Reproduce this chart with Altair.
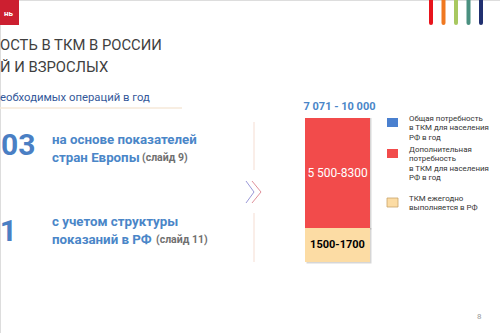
import altair as alt
import pandas as pd

FONT = "Roboto"

# ---- data ----
segments = ["ТКМ ежегодно выполняется в РФ", "Дополнительная потребность в ТКМ"]
seg_values = [1700, 5500]
seg_labels = ["1500-1700", "5 500-8300"]
seg_colors = ["#fcdca4", "#f24b4b"]
total_label = "7 071 - 10 000"

title_lines = ["ОСТЬ В ТКМ В РОССИИ", "Й И ВЗРОСЛЫХ"]
subtitle = "еобходимых операций в год"
big_numbers = ["03", "1"]
method_main = ["на основе показателей\nстран Европы", "с учетом структуры\nпоказаний в РФ"]
method_ref = ["(слайд 9)", "(слайд 11)"]
legend_labels = [
    "Общая потребность\nв ТКМ для населения\nРФ в год",
    "Дополнительная\nпотребность\nв ТКМ для населения\nРФ в год",
    "ТКМ ежегодно\nвыполняется в РФ",
]
legend_colors = ["#4a80cf", "#f24b4b", "#fcdca4"]
brand_colors = ["#e8141c", "#f07820", "#a8c860", "#4a9080", "#203070"]
logo_text = "нь"
page_number = "8"

one = pd.DataFrame({"a": [0]})


def txt(s, x, y, size, color, weight="normal", align="left", baseline="middle", lh=None):
    kw = dict(align=align, baseline=baseline, fontSize=size, fontWeight=weight,
              color=color, font=FONT, lineBreak="\n")
    if lh:
        kw["lineHeight"] = lh
    return alt.Chart(pd.DataFrame({"t": [s]})).mark_text(**kw).encode(
        x=alt.value(x), y=alt.value(y), text="t:N")


def seg(x1, y1, x2, y2, color, w=1, cap="butt"):
    return alt.Chart(one).mark_rule(color=color, strokeWidth=w, strokeCap=cap).encode(
        x=alt.value(x1), y=alt.value(y1), x2=alt.value(x2), y2=alt.value(y2))


def rect(x1, y1, x2, y2, color, stroke=None):
    kw = dict(color=color)
    if stroke:
        kw.update(stroke=stroke, strokeWidth=0.8)
    return alt.Chart(one).mark_rect(**kw).encode(
        x=alt.value(x1), y=alt.value(y1), x2=alt.value(x2), y2=alt.value(y2))


# ---- stacked bar ----
df = pd.DataFrame({"cat": ["РФ"] * 2, "seg": segments, "value": seg_values,
                   "label": seg_labels, "order": [0, 1]})
total = sum(seg_values)

xenc = alt.X("cat:N", scale=alt.Scale(range=[305, 370], paddingInner=0, paddingOuter=0), axis=None)
yscale = alt.Scale(domain=[0, total], range=[262, 118], nice=False, zero=True)

base = alt.Chart(df).transform_stack(
    stack="value", as_=["y0", "y1"], groupby=["cat"], sort=[alt.SortField("order")]
).transform_calculate(ymid="(datum.y0 + datum.y1) / 2")

shadow = base.mark_bar(color="#777777", opacity=0.3, xOffset=1.5, yOffset=1.5).encode(
    x=xenc, y=alt.Y("y0:Q", scale=yscale, axis=None), y2="y1:Q")
bars = base.mark_bar().encode(
    x=xenc, y=alt.Y("y0:Q", scale=yscale, axis=None), y2="y1:Q",
    color=alt.Color("seg:N", scale=alt.Scale(domain=segments, range=seg_colors), legend=None))
lab_top = base.transform_filter("datum.order == 1").mark_text(
    color="white", fontSize=12, font=FONT).encode(x=xenc, y=alt.Y("ymid:Q", scale=yscale, axis=None), text="label:N")
lab_bot = base.transform_filter("datum.order == 0").mark_text(
    color="black", fontSize=11, fontWeight="bold", font=FONT).encode(
    x=xenc, y=alt.Y("ymid:Q", scale=yscale, axis=None), text="label:N")
lab_total = alt.Chart(df).transform_aggregate(tot="sum(value)", groupby=["cat"]).mark_text(
    color="#4a86c8", fontSize=11, fontWeight="bold", font=FONT, dy=-11, dx=2).encode(
    x=xenc, y=alt.Y("tot:Q", scale=yscale, axis=None), text=alt.value(total_label))

layers = [shadow, bars, lab_top, lab_bot, lab_total]

# ---- decorations ----
layers.append(rect(0, 0, 19, 25, "#cc1f30"))
layers.append(txt(logo_text, 4, 14, 8, "white", weight="bold"))
for i, c in enumerate(brand_colors):
    xc = 431 + i * 12.5
    layers.append(seg(xc, 0, xc, 23, c, w=4, cap="round"))

layers.append(txt(title_lines[0], 0, 46, 14.8, "#3f3f3f"))
layers.append(txt(title_lines[1], 0, 68, 14.8, "#3f3f3f"))
layers.append(txt(subtitle, 0, 98, 11.3, "#34589a"))
layers.append(seg(0, 108, 182, 108, "#f6e8d8", w=1.5))

layers.append(txt(big_numbers[0], 1, 146, 30, "#4a7fc4", weight="bold"))
layers.append(txt(big_numbers[1], 17, 232, 30, "#4a7fc4", weight="bold", align="right"))

layers.append(txt(method_main[0], 52, 140, 13.3, "#4a86c8", weight="bold", baseline="middle", lh=18))
layers.append(txt(method_ref[0], 142, 158, 10.5, "#707070", weight="bold"))
layers.append(txt(method_main[1], 52, 222, 13.3, "#4a86c8", weight="bold", baseline="middle", lh=18))
layers.append(txt(method_ref[1], 156, 240, 10.5, "#707070", weight="bold"))

# divider line and chevrons
layers.append(seg(254, 122, 254, 170, "#f5ddd2", w=1))
layers.append(seg(254, 213, 254, 262, "#f5ddd2", w=1))
layers.append(seg(246, 181, 254, 192, "#9a98d8", w=1))
layers.append(seg(254, 192, 246, 203, "#9a98d8", w=1))
layers.append(seg(252, 181, 261, 192, "#e0909a", w=1))
layers.append(seg(261, 192, 252, 203, "#e0909a", w=1))

# legend
leg_y = [118, 149, 198]
for lab, col, y in zip(legend_labels, legend_colors, leg_y):
    layers.append(rect(387, y, 398, y + 9, col, stroke="#c9a36a" if col == "#fcdca4" else None))
    layers.append(txt(lab, 409, y - 3, 7.9, "#333333", baseline="top", lh=9.3))

layers.append(txt(page_number, 477, 317, 8, "#999999"))

chart = alt.layer(*layers).properties(
    width=500, height=333, padding=0, autosize=alt.AutoSizeParams(type="none")
).configure_view(stroke=None).configure(background="white")

chart.save("out.html", embed_options={"renderer": "svg", "actions": False})
